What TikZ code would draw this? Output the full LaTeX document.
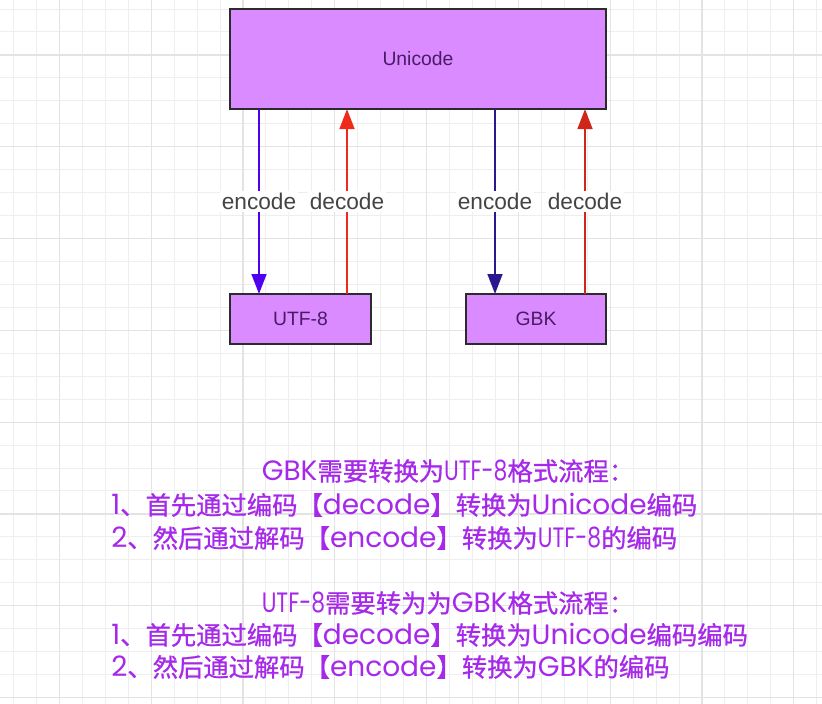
\documentclass[tikz,border=0pt]{standalone}
\usepackage{fontspec}
\setmainfont{Liberation Sans}
\newfontfamily\cjk{Noto Sans CJK SC}[FakeBold=0.8]
\newfontfamily\latfont{Poppins}
\newcommand\lat[1]{{\latfont\fontsize{21}{25}\selectfont #1}}
\newcommand\latn[1]{\scalebox{0.78}[1]{\lat{#1}}}
\newcommand\ncolon{\makebox[0.45em][l]{：}}
\usetikzlibrary{arrows.meta}
\definecolor{gridminor}{HTML}{EEEEEE}
\definecolor{gridmajor}{HTML}{E3E3E3}
\definecolor{boxfill}{HTML}{D98BFF}
\definecolor{boxline}{HTML}{2B2B2B}
\definecolor{boxtext}{HTML}{4A1A66}
\definecolor{blueA}{HTML}{5000F0}
\definecolor{blueB}{HTML}{2A1890}
\definecolor{redA}{HTML}{F02A1A}
\definecolor{redB}{HTML}{D0261A}
\definecolor{lbltext}{HTML}{444444}
\definecolor{notetext}{HTML}{A628EA}
\begin{document}
\begin{tikzpicture}[x=0.75pt,y=-0.75pt,
  boxstyle/.style={draw=boxline, fill=boxfill, line width=1.9pt, outer sep=0pt, inner sep=0pt,
    text=boxtext, font=\fontsize{14.5}{17}\selectfont},
  conn/.style={line width=1.9pt, -{Triangle[width=11pt,length=15pt]}},
  lbl/.style={fill=white, inner sep=1.5pt, text=lbltext, font=\fontsize{17}{20}\selectfont},
  note/.style={text=notetext, inner sep=0pt, font=\cjk\fontsize{19}{23}\selectfont}]
\useasboundingbox (0,0) rectangle (822,704);
\fill[white] (0,0) rectangle (822,704);
\foreach \i in {0,...,35} {
  \pgfmathsetmacro\gx{13.5+22.95*\i}
  \draw[gridminor, line width=0.75pt] (\gx,0) -- (\gx,704);
}
\foreach \i in {0,...,30} {
  \pgfmathsetmacro\gy{9+22.95*\i}
  \draw[gridminor, line width=0.75pt] (0,\gy) -- (822,\gy);
}
\foreach \i in {2,6,...,34} {
  \pgfmathsetmacro\gx{13.5+22.95*\i}
  \draw[gridmajor, line width=0.9pt] (\gx,0) -- (\gx,704);
}
\foreach \i in {2,6,...,30} {
  \pgfmathsetmacro\gy{9+22.95*\i}
  \draw[gridmajor, line width=0.9pt] (0,\gy) -- (822,\gy);
}

\node[boxstyle, minimum width=376*0.75pt, minimum height=100*0.75pt] (uni) at (418,59) {\raisebox{-1pt}{Unicode}};
\node[boxstyle, minimum width=141*0.75pt, minimum height=50*0.75pt] (utf) at (300.5,319) {UTF-8};
\node[boxstyle, minimum width=140*0.75pt, minimum height=50*0.75pt] (gbk) at (536,319) {GBK};

\draw[conn, blueA] ([xshift=21.75pt]uni.south west) -- node[lbl]{encode} ([xshift=21.75pt]utf.north west);
\draw[conn, redA] ([xshift=87.75pt]utf.north west) -- node[lbl]{decode} ([xshift=87.75pt]uni.south west);
\draw[conn, blueB] ([xshift=21.75pt]uni.south west -| gbk.north west) -- node[lbl]{encode} ([xshift=21.75pt]gbk.north west);
\draw[conn, redB] ([xshift=89.25pt]gbk.north west) -- node[lbl]{decode} ([xshift=89.25pt]gbk.north west |- uni.south);

\node[note, anchor=base] (h1) at (441,480.6) {\lat{GBK}需要转换为\latn{UTF-8}格式流程\ncolon};
\node[note, anchor=base west] (a1) at (111,514.6) {\lat{1}、首先通过编码【\lat{decode}】转换为\lat{Unicode}编码};
\node[note, anchor=base west] (a2) at (111,547.6) {\lat{2}、然后通过解码【\lat{encode}】转换为\latn{UTF-8}的编码};
\node[note, anchor=base] (h2) at (441,612.6) {\latn{UTF-8}需要转为为\lat{GBK}格式流程\ncolon};
\node[note, anchor=base west] (b1) at (111,644.6) {\lat{1}、首先通过编码【\lat{decode}】转换为\lat{Unicode}编码编码};
\node[note, anchor=base west] (b2) at (111,676.6) {\lat{2}、然后通过解码【\lat{encode}】转换为\lat{GBK}的编码};
\end{tikzpicture}
\end{document}
